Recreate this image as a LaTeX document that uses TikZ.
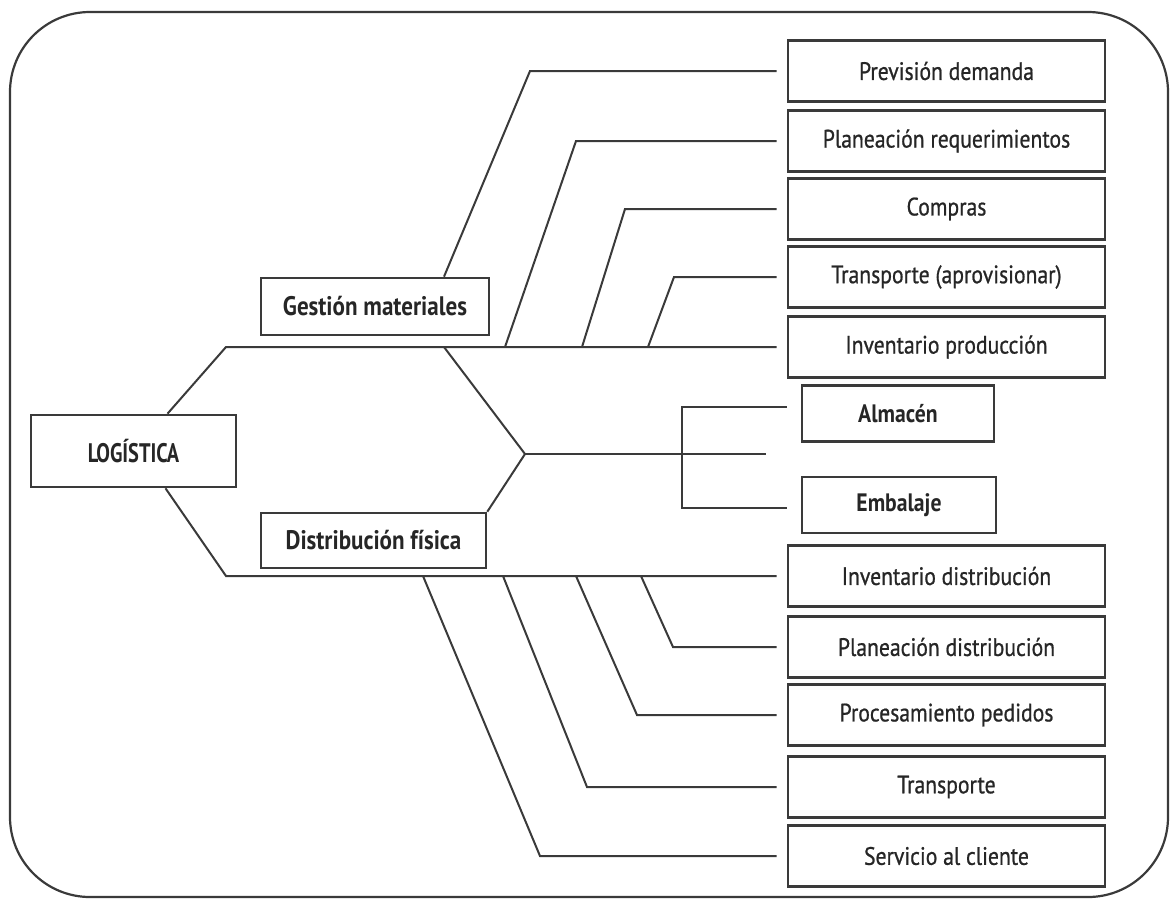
\documentclass[tikz,border=0pt]{standalone}
\usepackage{fontspec}
\setmainfont{PT Sans}[FakeStretch=0.86]
\newfontfamily\medfont{PT Sans}[FakeStretch=0.86,FakeBold=0.8]
\newfontfamily\capfont{PT Sans Bold}[FakeStretch=0.76]
\usetikzlibrary{calc}
\definecolor{ln}{HTML}{3A3A3A}
\begin{document}
\begin{tikzpicture}[x=0.5pt,y=-0.5pt,
  conn/.style={draw=ln,line width=1pt},
  rbox/.style={draw=ln,line width=1.3pt,minimum width=158.5pt,minimum height=30.5pt,inner sep=0pt,font=\medfont\fontsize{12.6}{14}\selectfont,text=black!85},
  sbox/.style={draw=ln,line width=1.3pt,minimum height=28pt,inner sep=0pt,font=\bfseries\fontsize{12.6}{14}\selectfont,text=black!85},
  mbox/.style={draw=ln,line width=1.3pt,inner sep=0pt,font=\bfseries\fontsize{13.4}{15}\selectfont,text=black!85}]
\useasboundingbox (0,0) rectangle (1174,901);
\draw[conn,line width=1.1pt,rounded corners=40pt] (10,12) rectangle (1168,897);
% main nodes
\node[mbox,minimum width=102.5pt,minimum height=36pt,font=\capfont\fontsize{13.4}{15}\selectfont] (log) at (133.5,451) {LOGÍSTICA};
\node[mbox,minimum width=114pt,minimum height=28.5pt] (gm) at (375,306.5) {Gestión materiales};
\node[mbox,minimum width=112.5pt,minimum height=27.5pt] (df) at (373.5,540.5) {Distribución física};
% right boxes
\node[rbox] (pd) at (946.5,71) {Previsión demanda};
\node[rbox] (pr) at (946.5,141) {Planeación requerimientos};
\node[rbox] (co) at (946.5,209) {Compras};
\node[rbox] (ta) at (946.5,277) {Transporte (aprovisionar)};
\node[rbox] (ip) at (946.5,347) {Inventario producción};
\node[sbox,minimum width=96pt] (al) at (898,413.5) {Almacén};
\node[sbox,minimum width=97pt] (em) at (899,505) {Embalaje};
\node[rbox] (id) at (946.5,576) {Inventario distribución};
\node[rbox] (pld) at (946.5,647) {Planeación distribución};
\node[rbox] (pp) at (946.5,715) {Procesamiento pedidos};
\node[rbox] (tr) at (946.5,787) {Transporte};
\node[rbox] (sc) at (946.5,856) {Servicio al cliente};
% junctions
\coordinate (j1) at (226,347);
\coordinate (j2) at (226,576);
\coordinate (h1) at (444,347);
\coordinate (hx) at (525,454);
\coordinate (me) at (766,454);
\coordinate (bA) at (682,407);
\coordinate (bE) at (682,508);
% trunk
\draw[conn] ([xshift=17pt]log.north) -- (j1) -- ([xshift=-5pt]ip.west);
\draw[conn] ([xshift=16pt]log.south) -- (j2) -- ([xshift=-5pt]id.west);
\draw[conn] (h1) -- (hx) -- (df.north east);
\draw[conn] (hx) -- (me);
\draw[conn] ($(bA -| al.west)+(-14,0)$) -- (bA) -- (bE) -- ($(bE -| em.west)+(-14,0)$);
% upper branches
\draw[conn] ([xshift=34.5pt]gm.north) -- (530,71) -- ([xshift=-5pt]pd.west);
\draw[conn] (505,347) -- (576,141) -- ([xshift=-5pt]pr.west);
\draw[conn] (582,347) -- (625,209) -- ([xshift=-5pt]co.west);
\draw[conn] (648,347) -- (674,277) -- ([xshift=-5pt]ta.west);
% lower branches
\draw[conn] (641,576) -- (673,647) -- ([xshift=-5pt]pld.west);
\draw[conn] (576,576) -- (637,715) -- ([xshift=-5pt]pp.west);
\draw[conn] (503,576) -- (587,787) -- ([xshift=-5pt]tr.west);
\draw[conn] (423,576) -- (540,856) -- ([xshift=-5pt]sc.west);
\end{tikzpicture}
\end{document}
